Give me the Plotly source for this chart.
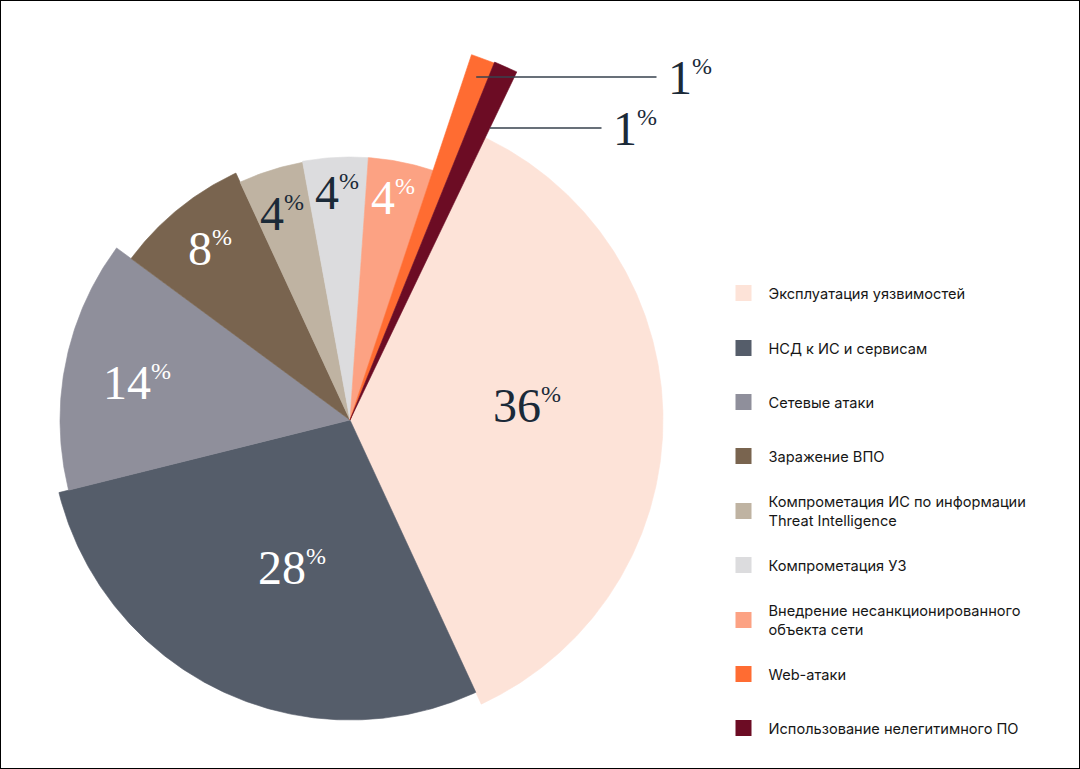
import numpy as np
import plotly.graph_objects as go

# ---------------- data ----------------
categories = [
    "Эксплуатация уязвимостей",
    "НСД к ИС и сервисам",
    "Сетевые атаки",
    "Заражение ВПО",
    "Компрометация ИС по информации<br>Threat Intelligence",
    "Компрометация УЗ",
    "Внедрение несанкционированного<br>объекта сети",
    "Web-атаки",
    "Использование нелегитимного ПО",
]
shares = [36, 28, 14, 8, 4, 4, 4, 1, 1]

# ---------------- style ----------------
colors = ["#FDE3D8", "#555D6A", "#8F8F9B", "#79644F", "#BFB3A2",
          "#DCDCDE", "#FCA283", "#FF6C32", "#6C0C24"]
slice_radius = [313, 300, 290, 272, 262, 263, 263, 385, 386]   # px
# label centres, px from pie centre (x right, y up)
label_pos = [(177, 15), (-58, -147), (-213, 38), (-140, 172), (-68, 207),
             (-13, 228), (43, 223), (340, 343), (285, 292)]
label_colors = ["#1B2A38", "#FFFFFF", "#FFFFFF", "#FFFFFF", "#1B2A38",
                "#1B2A38", "#FFFFFF", "#1B2A38", "#1B2A38"]
leader_anchor_frac = {7: 0.5, 8: 1.0}   # where (across the slice) the leader line ends
legend_y_px = [293, 348, 402, 456, 511, 565, 620, 674, 728]
START_ANGLE = 25.6   # degrees clockwise from 12 o'clock
W, H = 1080, 769
CX, CY = 350, 420    # pie centre in px

SERIF = "Liberation Serif, DejaVu Serif, serif"
SANS = "Inter, Roboto, Noto Sans, sans-serif"

fig = go.Figure()

annotations = []
cum = 0.0
for i, (cat, v, c, r) in enumerate(zip(categories, shares, colors, slice_radius)):
    a0 = START_ANGLE + 3.6 * cum
    a1 = a0 + 3.6 * v
    cum += v
    th = np.radians(np.linspace(a0, a1, max(3, int(v * 3.6 * 2) + 2)))
    xs = np.concatenate([[0], r * np.sin(th), [0]])
    ys = np.concatenate([[0], r * np.cos(th), [0]])
    fig.add_trace(go.Scatter(
        x=xs, y=ys, mode="lines", fill="toself", fillcolor=c,
        line=dict(color=c, width=0.6), showlegend=False, hoverinfo="skip",
    ))
    tx, ty = label_pos[i]
    txt = f"{v}<sup><span style='font-size:24px'>%</span></sup>"
    font = dict(family=SERIF, size=48, color=label_colors[i])
    if i in leader_anchor_frac:
        ang = np.radians(a0 + (a1 - a0) * leader_anchor_frac[i])
        annotations.append(dict(
            x=ty * np.tan(ang), y=ty, xref="x", yref="y",
            ax=tx, ay=ty, axref="x", ayref="y",
            text=txt, showarrow=True, arrowhead=0, arrowwidth=1.3,
            arrowcolor="#37414D", startstandoff=10, font=font,
        ))
    else:
        annotations.append(dict(
            x=tx, y=ty, xref="x", yref="y", text=txt, showarrow=False,
            xanchor="center", yanchor="middle", font=font,
        ))

# legend entries (one legend each so spacing matches)
legends = {}
for i, (cat, c) in enumerate(zip(categories, colors)):
    key = "legend" if i == 0 else f"legend{i + 1}"
    fig.add_trace(go.Scatter(
        x=[None], y=[None], mode="markers", name=cat,
        marker=dict(symbol="square", size=16, color=c),
        legend=key, showlegend=True, hoverinfo="skip",
    ))
    legends[key] = dict(
        x=718.5 / W, y=1 - legend_y_px[i] / H, xanchor="left", yanchor="middle",
        bgcolor="rgba(0,0,0,0)", borderwidth=0, itemwidth=40, itemsizing="trace",
        font=dict(family=SANS, size=14.6, color="#161616"),
    )

fig.update_layout(
    width=W, height=H,
    margin=dict(l=0, r=0, t=0, b=0),
    paper_bgcolor="white", plot_bgcolor="white",
    xaxis=dict(range=[-CX, W - CX], visible=False, fixedrange=True),
    yaxis=dict(range=[-(H - CY), CY], visible=False, fixedrange=True),
    annotations=annotations,
    shapes=[dict(type="rect", xref="paper", yref="paper", x0=0, y0=0, x1=1, y1=1,
                 line=dict(color="black", width=2), fillcolor="rgba(0,0,0,0)")],
    **legends,
)

fig.write_html("out.html")
